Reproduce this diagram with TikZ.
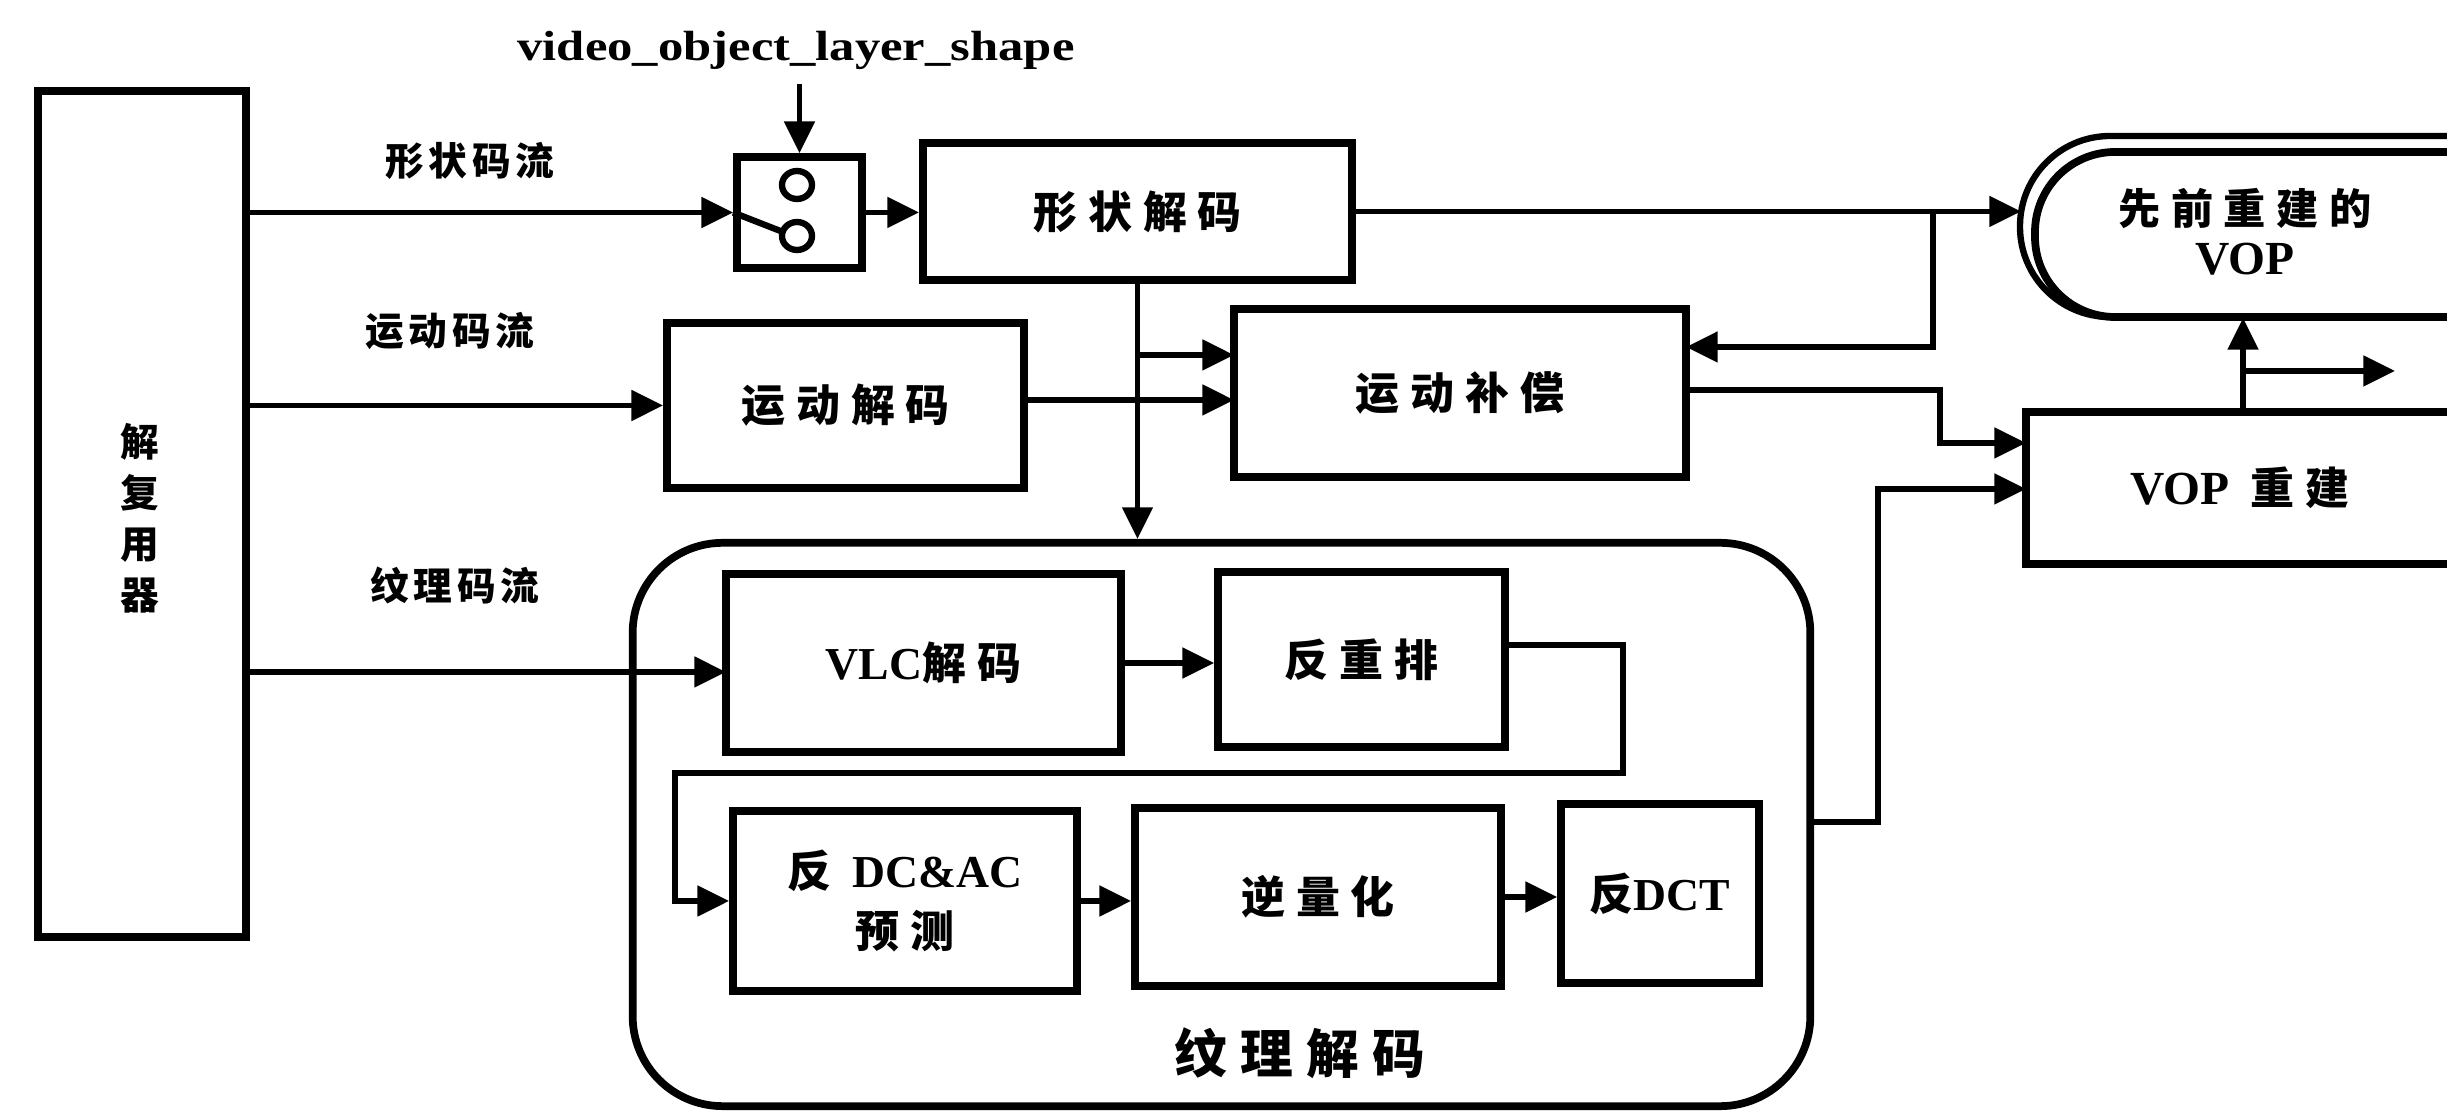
\documentclass[tikz,border=0pt]{standalone}
\usepackage{fontspec}
\setmainfont{Liberation Serif}
\newfontfamily\cjk[LetterSpace=25]{Noto Sans CJK SC}
\newfontfamily\cjks[LetterSpace=12]{Noto Sans CJK SC}
\newfontfamily\lat{Liberation Serif}
\usetikzlibrary{arrows.meta}
\begin{document}
\begin{tikzpicture}[x=0.01cm,y=-0.01cm,
  box/.style={draw, line width=2.2pt, inner sep=0pt, align=center,
    font=\cjk\bfseries\fontsize{12.5}{15}\selectfont},
  lbl/.style={inner sep=0pt, font=\cjks\bfseries\fontsize{11}{13}\selectfont},
  ln/.style={line width=1.5pt},
  arr/.style={line width=1.5pt, -{Triangle[length=9pt,width=8.5pt]}}]
\useasboundingbox (0,0) rectangle (2447,1116);
\clip (0,0) rectangle (2447,1116);

% demultiplexer
\node[box, minimum width=2.08cm, minimum height=8.46cm] (dm) at (142,514) {};
\node[inner sep=0pt, align=center, font=\cjk\bfseries\fontsize{11}{14.5}\selectfont] (dmt) at (140,518) {解\\复\\用\\器};

% stream labels
\node[lbl] (l1) at (470,161) {形状码流};
\node[lbl] (l2) at (450,331) {运动码流};
\node[lbl] (l3) at (455,585) {纹理码流};
\node[inner sep=0pt, font=\lat\bfseries\fontsize{12}{14}\selectfont] (vol) at (796,50) {\scalebox{1.2}[1]{video\_object\_layer\_shape}};

% switch
\node[draw, line width=2.2pt, minimum width=1.25cm, minimum height=1.11cm, inner sep=0pt] (sw) at (799.5,212.5) {};
\draw[line width=1.8pt] (797,185) ellipse [x radius=15, y radius=14];
\draw[line width=1.8pt] (797,236) ellipse [x radius=15, y radius=14];
\draw[line width=1.8pt] (sw.west) -- (783,232);

% boxes
\node[box, minimum width=4.29cm, minimum height=1.37cm] (sd) at (1137.5,211.5) {形状解码};
\node[box, minimum width=3.57cm, minimum height=1.65cm] (md) at (845.5,405.5) {运动解码};
\node[box, minimum width=4.52cm, minimum height=1.68cm] (mc) at (1460,393) {运动补偿};
\node[draw, line width=2.2pt, minimum width=4.44cm, minimum height=1.52cm, inner sep=0pt] (vr) at (2248,488) {};
\node[inner sep=0pt, font=\cjk\bfseries\fontsize{12.5}{15}\selectfont] (vrt) at (2240,488) {{\lat\bfseries\fontsize{13.5}{15}\selectfont VOP} 重建};

% previously reconstructed VOP
\draw[line width=1.8pt, rounded corners=0.9cm] (2470,136) -- (2020,136) -- (2020,317) -- (2470,317);
\draw[line width=2.2pt, rounded corners=0.8cm] (2470,152) -- (2035,152) -- (2035,317) -- (2470,317);
\node[inner sep=0pt, align=center, font=\cjk\bfseries\fontsize{12}{14.2}\selectfont] (vp) at (2245,232) {先前重建的\\{\lat\bfseries\fontsize{13.5}{15}\selectfont VOP}};
\coordinate (vpin) at (2021,211.5);
\coordinate (vpout) at (2243,318);

% texture decoding
\node[draw, line width=2.2pt, rounded corners=0.9cm, minimum width=11.77cm, minimum height=5.63cm] (td) at (1221.5,824.5) {};
\node[inner sep=0pt, font=\cjk\bfseries\fontsize{15}{18}\selectfont] (tdl) at (1300,1053) {纹理解码};
\node[box, minimum width=3.95cm, minimum height=1.78cm] (vlc) at (923.5,663) {{\lat\bfseries\fontsize{13}{15}\selectfont VLC}解码};
\node[box, minimum width=2.87cm, minimum height=1.75cm] (rs) at (1361.5,659.5) {反重排};
\node[box, minimum width=3.44cm, minimum height=1.80cm] (dc) at (905,901) {反 {\lat\bfseries\fontsize{13}{15}\selectfont DC\&AC}\\[2pt]预测};
\node[box, minimum width=3.66cm, minimum height=1.78cm] (iq) at (1318,897) {逆量化};
\node[box, minimum width=1.98cm, minimum height=1.79cm] (ic) at (1660,893.5) {反{\lat\bfseries\fontsize{13}{15}\selectfont DCT}};

% connectors
\draw[arr] (dm.east |- sw.west) -- (sw.west);
\draw[arr] (sw.north |- vol.south) ++(0,14) -- (sw.north);
\draw[arr] (sw.east) -- (sw.east -| sd.west);
\draw[arr] (sd.east) -- (vpin);
\coordinate (b1) at (1933,211.5);
\coordinate (mcin) at (1686,347);
\draw[arr] (b1) |- (mcin);
\draw[arr] (sd.south) -- (sd.south |- td.north);
\coordinate (j1) at (1137.5,355);
\coordinate (mcu) at (1234,355);
\draw[arr] (j1) -- (mcu);
\coordinate (mdo) at (1024,400);
\coordinate (mcl) at (1234,400);
\draw[arr] (mdo) -- (mcl);
\draw[arr] (dm.east |- md.west) -- (md.west);
\coordinate (dmt3) at (246,672);
\coordinate (vlcin) at (726,672);
\draw[arr] (dmt3) -- (vlcin);
% motion comp -> VOP reconstruction
\coordinate (mco) at (1686,390);
\coordinate (vr1) at (2026,443);
\draw[arr] (mco) -- (1940,390) |- (vr1);
% texture -> VOP reconstruction
\coordinate (tdo) at (1810,822);
\coordinate (vr2) at (2026,489);
\draw[arr] (tdo) -- (1878,822) |- (vr2);
% VOP reconstruction outputs
\coordinate (vrtop) at (2243,412);
\draw[arr] (vrtop) -- (vpout);
\coordinate (b2) at (2243,371);
\coordinate (outr) at (2395,371);
\draw[arr] (b2) -- (outr);
% inside texture decoding
\draw[arr] (vlc.east) -- (vlc.east -| rs.west);
\coordinate (rso) at (1506,645);
\draw[arr] (rso) -- (1623,645) -- (1623,773) -- (675,773) |- (dc.west);
\draw[arr] (dc.east) -- (dc.east -| iq.west);
\draw[arr] (iq.east) -- (iq.east -| ic.west);
\end{tikzpicture}
\end{document}
